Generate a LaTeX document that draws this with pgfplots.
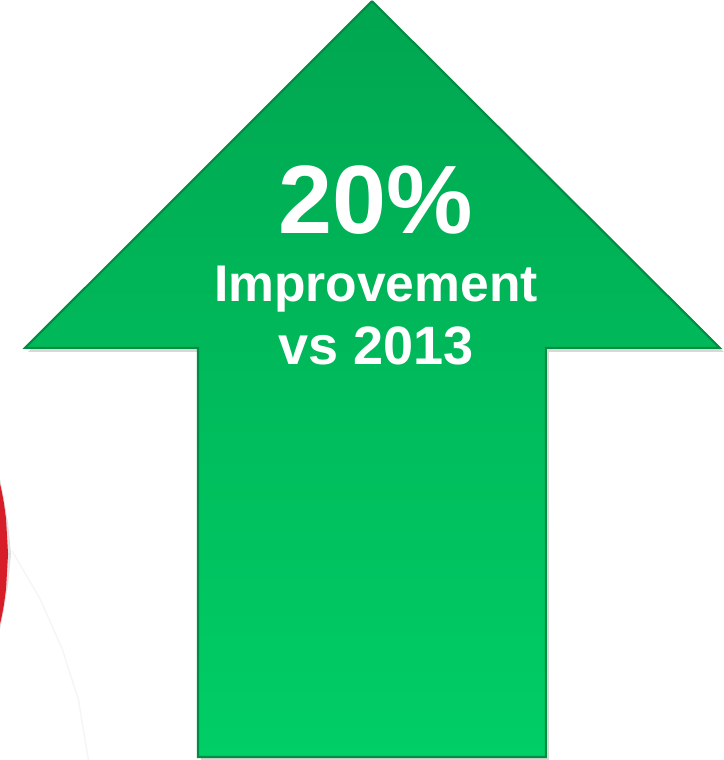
\documentclass[border=0pt]{standalone}
\usepackage{pgfplots}
\pgfplotsset{compat=1.18}
\usepackage{fontspec}
\setmainfont{Liberation Sans}
\definecolor{arrowtop}{RGB}{0,166,80}
\definecolor{arrowmid}{RGB}{0,196,96}
\definecolor{arrowbot}{RGB}{0,206,102}
\definecolor{arrowedge}{RGB}{0,140,66}
\definecolor{ringred}{RGB}{215,30,40}
\begin{document}
\begin{tikzpicture}
\begin{axis}[width=7.32cm, height=7.6cm, scale only axis, hide axis,
  xmin=0, xmax=732, ymin=0, ymax=760, clip=true]
% red ring at the left edge (pixel y measured from the bottom)
\addplot[fill=black!12, draw=none] coordinates {(0,130) (4,150) (8,174) (11,205) (8,236) (4,260) (0,280) (0,130)};
\addplot[fill=ringred, draw=none] coordinates {(0,135) (2,144) (4,155) (6,170) (8,205) (6,240) (4,255) (2,266) (0,275) (0,135)};
% faint arc
\addplot[black!4, thin] coordinates {(12,208) (40,160) (62,110) (78,60) (88,0)};
% drop shadow of the arrow
\addplot[fill=black!30, draw=none, opacity=0.5] coordinates {(372,752) (720,406) (546,406) (546,-2) (200,-2) (200,406) (28,406) (372,752)};
% arrow body
\addplot[draw=arrowedge, line width=0.6pt, top color=arrowtop, middle color=arrowmid, bottom color=arrowbot] coordinates {(370,755) (716,410) (543,410) (543,3) (197,3) (197,410) (25,410) (370,755)};
\node[anchor=base, text=white, font=\fontsize{27.5}{30}\selectfont\bfseries] at (axis cs:374,524) {20\%};
\node[anchor=base, text=white, font=\fontsize{14.6}{17}\selectfont\bfseries] at (axis cs:374,456) {Improvement};
\node[anchor=base, text=white, font=\fontsize{15.3}{18}\selectfont\bfseries] at (axis cs:374,393) {vs 2013};
\end{axis}
\end{tikzpicture}
\end{document}
